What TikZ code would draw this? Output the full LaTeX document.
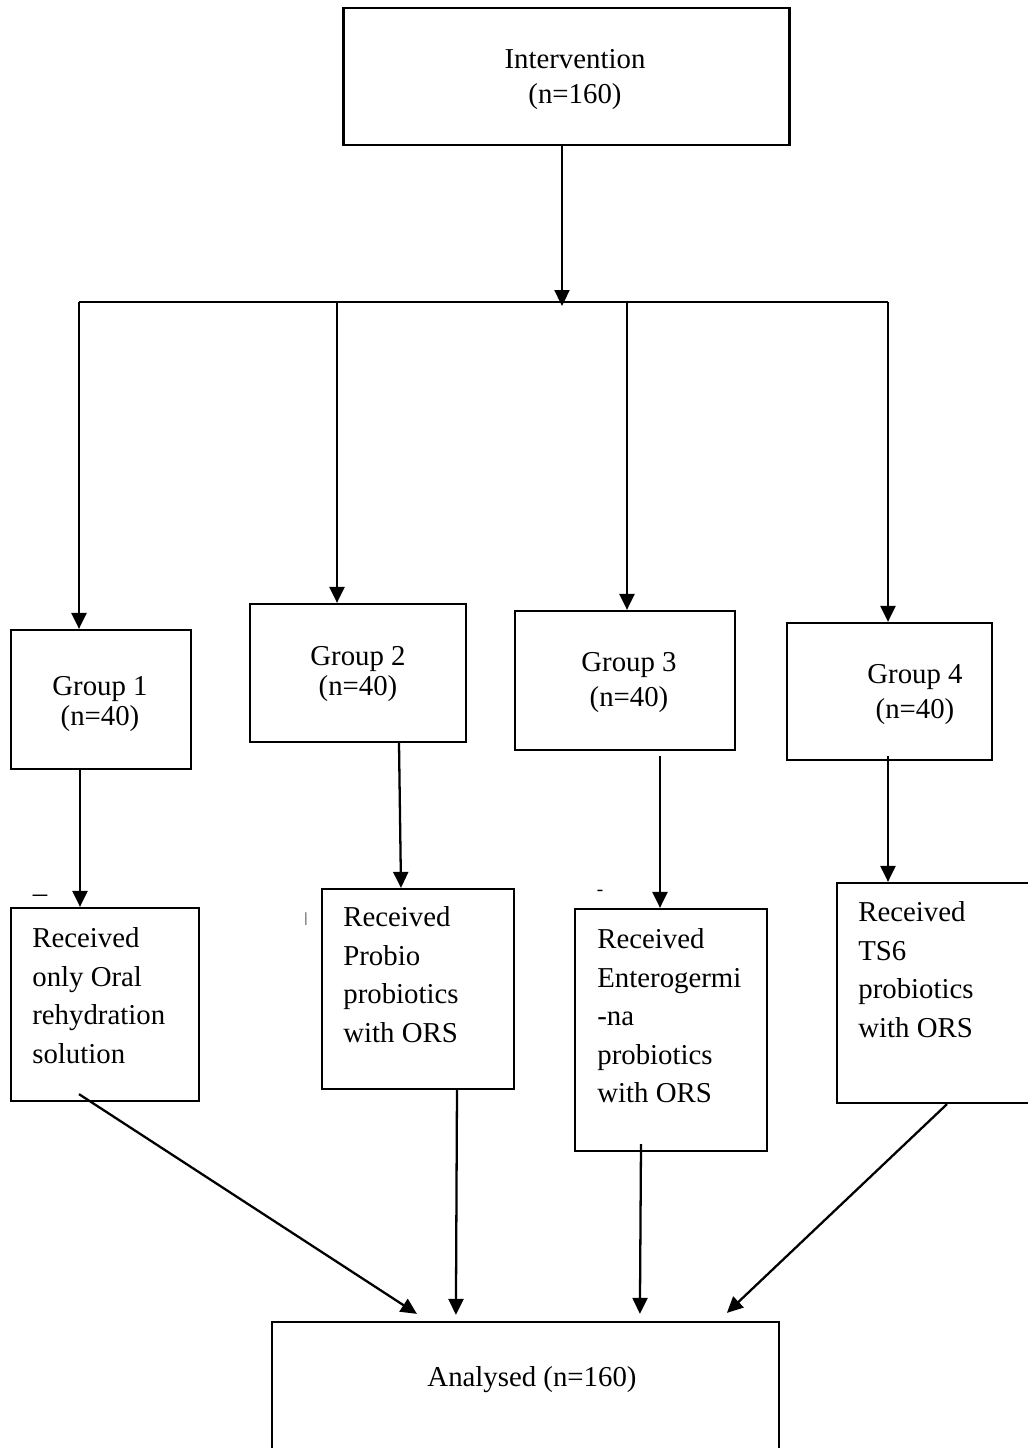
\documentclass[tikz,border=0pt]{standalone}
\usepackage{fontspec}
\setmainfont{Liberation Serif}
\usetikzlibrary{arrows.meta}
\begin{document}
\begin{tikzpicture}[x=0.02cm,y=-0.02cm,
  box/.style={draw,line width=1.3pt,inner sep=0pt},
  lbl/.style={inner sep=0pt,align=center,font=\fontsize{16.4}{19.8}\selectfont},
  ltxt/.style={inner sep=0pt,align=left,anchor=north west,font=\fontsize{16.4}{22}\selectfont},
  straymark/.style={inner sep=0pt},
  arr/.style={line width=1.3pt,-{Triangle[length=0.32cm,width=0.3cm]}},
  conn/.style={line width=1.3pt}]
\useasboundingbox (0,0) rectangle (1028,1448);
\clip (0,0) rectangle (1028,1448);

% top box
\node[box,minimum width=8.92cm,minimum height=2.74cm] (I) at (566.5,76.5) {};
\node[lbl] (It) at (575,79.5) {Intervention\\(n=160)};

% group boxes
\node[box,minimum width=3.6cm,minimum height=2.78cm] (G1) at (101,699.5) {};
\node[lbl,font=\fontsize{16.4}{17.6}\selectfont] (G1t) at (100,704) {Group 1\\(n=40)};
\node[box,minimum width=4.32cm,minimum height=2.76cm] (G2) at (358,673) {};
\node[lbl,font=\fontsize{16.4}{17}\selectfont] (G2t) at (358,674) {Group 2\\(n=40)};
\node[box,minimum width=4.4cm,minimum height=2.78cm] (G3) at (625,680.5) {};
\node[lbl] (G3t) at (629,682.5) {Group 3\\(n=40)};
\node[box,minimum width=4.1cm,minimum height=2.74cm] (G4) at (889.5,691.5) {};
\node[lbl] (G4t) at (915,694.5) {Group 4\\(n=40)};

% received boxes
\node[box,minimum width=3.76cm,minimum height=3.86cm] (R1) at (105,1004.5) {};
\node[ltxt] (R1t) at (32,927) {Received\\only Oral\\rehydration\\solution};
\node[box,minimum width=3.84cm,minimum height=4.0cm] (R2) at (418,989) {};
\node[ltxt] (R2t) at (343,906) {Received\\Probio\\probiotics\\with ORS};
\node[box,minimum width=3.84cm,minimum height=4.84cm] (R3) at (671,1030) {};
\node[ltxt] (R3t) at (597,928) {Received\\Enterogermi\\-na\\probiotics\\with ORS};
\node[box,minimum width=3.86cm,minimum height=4.4cm] (R4) at (933.5,993) {};
\node[ltxt] (R4t) at (858,901) {Received\\TS6\\probiotics\\with ORS};

% analysed box
\node[box,minimum width=10.14cm,minimum height=2.96cm] (A) at (525.5,1396) {};
\node[lbl] (At) at (532,1380) {Analysed (n=160)};

% stray marks
\node[straymark,font=\fontsize{16.4}{16}\selectfont] (m1) at (40,899) {–};
\node[straymark,font=\fontsize{8}{8}\selectfont] (m2) at (306,919) {|};
\node[straymark,font=\fontsize{11}{11}\selectfont] (m3) at (600,893) {-};

% bus
\coordinate (b1) at (79,302);
\coordinate (b2) at (337,302);
\coordinate (b3) at (627,302);
\coordinate (b4) at (888,302);
\coordinate (bc) at (562,306);
\draw[arr] ([xshift=-4.5*0.02cm]I.south) -- (bc);
\draw[conn] (b1) -- (b4);
\draw[arr] (b1) -- (b1 |- G1.north);
\draw[arr] (b2) -- (b2 |- G2.north);
\draw[arr] (b3) -- (b3 |- G3.north);
\draw[arr] (b4) -- (b4 |- G4.north);

% group -> received
\draw[arr] ([xshift=-21*0.02cm]G1.south) -- ([xshift=-25*0.02cm]R1.north);
\draw[arr] ([xshift=41*0.02cm]G2.south) -- ([xshift=-17*0.02cm]R2.north);
\draw[arr] ([shift={(35,5)}]G3.south) -- ([xshift=-11*0.02cm]R3.north);
\draw[arr] ([shift={(-1.5,-5)}]G4.south) -- ([xshift=-45.5*0.02cm]R4.north);

% received -> analysed
\draw[arr] ([shift={(-26,-8)}]R1.south) -- ([shift={(146,-7)}]A.north west);
\draw[arr] ([shift={(39,-2)}]R2.south) -- ([shift={(185,-6)}]A.north west);
\draw[arr] ([shift={(-30,-8)}]R3.south) -- ([shift={(369,-7)}]A.north west);
\draw[arr] ([shift={(13.5,0)}]R4.south) -- ([shift={(456,-8)}]A.north west);
\end{tikzpicture}
\end{document}
